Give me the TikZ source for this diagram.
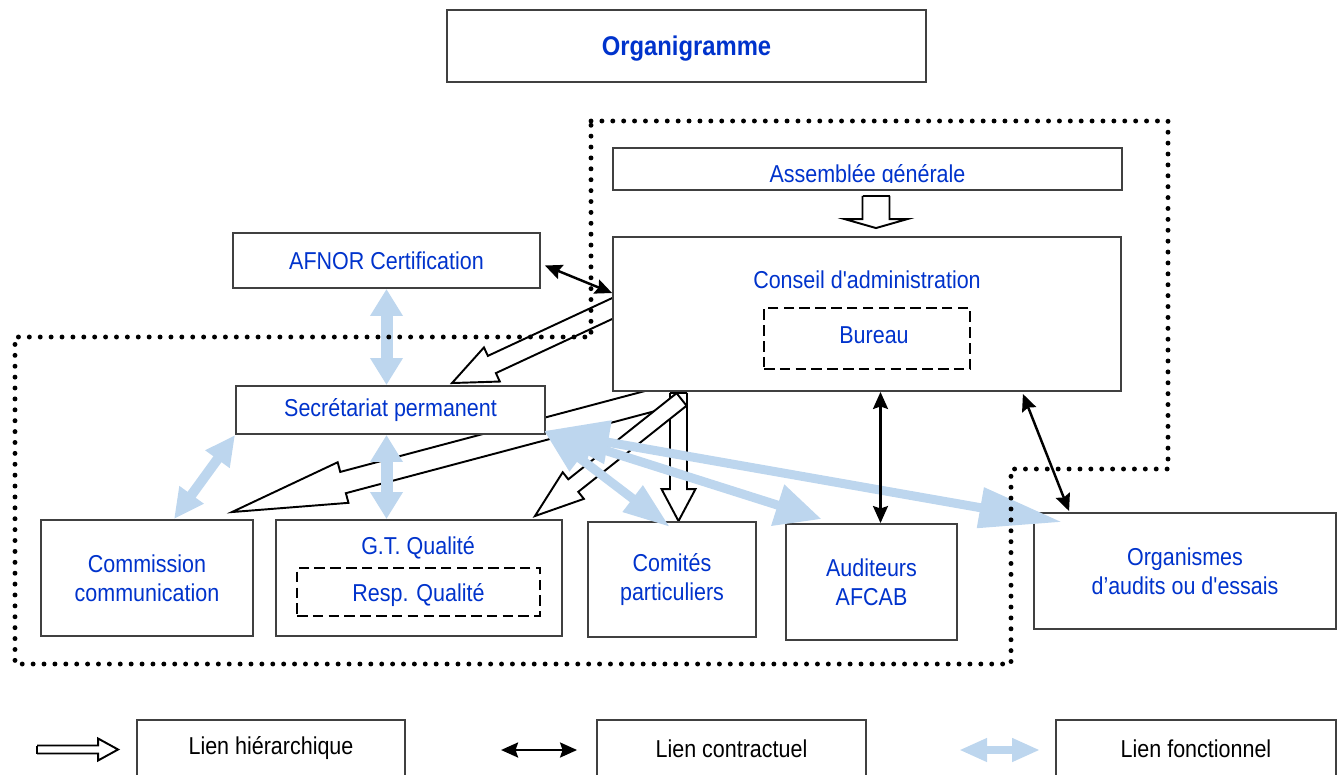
\documentclass[tikz,border=0pt]{standalone}
\usepackage{fontspec}
\setmainfont{Liberation Sans}[Ligatures=TeXOff, FakeStretch=0.88]
\usetikzlibrary{arrows.meta,calc}
\definecolor{txtblue}{RGB}{0,51,204}
\definecolor{funcblue}{RGB}{189,214,238}
\definecolor{boxgray}{RGB}{64,64,64}
\newcommand{\txtsize}{\fontsize{13.9}{16.5}\selectfont}
\pgfdeclarelayer{back}
\pgfsetlayers{back,main}
\tikzset{
  box/.style={draw=boxgray, line width=1.1pt, fill=white, inner sep=0pt, align=center, text=txtblue, font=\txtsize},
  subbox/.style={draw=black, line width=1.1pt, dash pattern=on 6pt off 3pt, inner sep=0pt},
  boxtext/.style={text=txtblue, font=\txtsize, inner sep=0pt},
  legbox/.style={box, text=black},
  hier/.style={draw=black, line width=1.1pt},
  contr/.style={line width=1.4pt, arrows={Stealth[length=0.34cm,width=0.3cm,inset=0.05cm]-Stealth[length=0.34cm,width=0.3cm,inset=0.05cm]}},
  func/.style={draw=funcblue, line width=0.18cm},
  groupline/.style={line width=2.8pt, line cap=round, dash pattern=on 0pt off 6.2pt}
}
% hollow block arrow: [cap style] start, tip, half shaft, half head, head length
\newcommand{\hollowarrow}[6][]{%
  \coordinate (ha-s) at (#2);
  \coordinate (ha-t) at (#3);
  \coordinate (ha-b) at ($(ha-t)!#6!(ha-s)$);
  \fill[white] ($(ha-s)!#4!90:(ha-t)$) -- ($(ha-b)!#4!-90:(ha-s)$) -- ($(ha-b)!#5!-90:(ha-s)$)
    -- (ha-t) -- ($(ha-b)!#5!90:(ha-s)$) -- ($(ha-b)!#4!90:(ha-s)$) -- ($(ha-s)!#4!-90:(ha-t)$) -- cycle;
  \draw[hier] ($(ha-s)!#4!90:(ha-t)$) -- ($(ha-b)!#4!-90:(ha-s)$) -- ($(ha-b)!#5!-90:(ha-s)$)
    -- (ha-t) -- ($(ha-b)!#5!90:(ha-s)$) -- ($(ha-b)!#4!90:(ha-s)$) -- ($(ha-s)!#4!-90:(ha-t)$);
  \draw[hier,#1] ($(ha-s)!#4!-90:(ha-t)$) -- ($(ha-s)!#4!90:(ha-t)$);}
\begin{document}
\begin{tikzpicture}[x=0.02cm, y=-0.02cm]
  \useasboundingbox (0,0) rectangle (1338,774);
  % title
  \node[box, font=\fontsize{15.4}{18}\selectfont\bfseries, text depth=0pt, minimum width=9.58cm, minimum height=1.44cm] (titre) at (686.5,46) {Organigramme};
  % boxes
  \node[box, minimum width=10.18cm, minimum height=0.84cm] (ag) at (867.5,169) {};
  \begin{scope}
    \clip (ag.north west) rectangle ($(ag.south east)+(0,-8)$);
    \node[boxtext, anchor=base] (agl) at (867.5,182) {Assemblée générale};
  \end{scope}
  \node[box, minimum width=6.14cm, minimum height=1.1cm] (afnor) at (386.5,260.5) {AFNOR Certification};
  \node[box, minimum width=10.16cm, minimum height=3.08cm] (cons) at (867,314) {};
  \node[boxtext] (consl) at (867,280) {Conseil d'administration};
  \node[subbox, minimum width=4.12cm, minimum height=1.22cm] (bur) at (867,338.5) {};
  \node[boxtext] (burl) at (874,335) {Bureau};
  \node[box, minimum width=6.18cm, minimum height=0.96cm] (secr) at (390.5,410) {Secrétariat permanent};
  \node[box, minimum width=4.24cm, minimum height=2.32cm] (comm) at (147,578) {Commission\\communication};
  \node[box, minimum width=5.72cm, minimum height=2.32cm] (gtq) at (419,578) {};
  \node[boxtext] (gtql) at (418,548) {G.T. Qualité};
  \node[subbox, minimum width=4.86cm, minimum height=0.96cm] (resp) at (418.5,592) {};
  \node[boxtext] (respl) at (418.5,595) {Resp. Qualité};
  \node[box, minimum width=3.36cm, minimum height=2.3cm] (comites) at (672,579.5) {Comités\\particuliers};
  \node[box, minimum width=3.42cm, minimum height=2.32cm] (audit) at (871.5,582) {Auditeurs\\AFCAB};
  \node[box, minimum width=6.04cm, minimum height=2.32cm] (org) at (1185,571) {Organismes\\d’audits ou d'essais};
  % legend
  \node[legbox, minimum width=5.36cm, minimum height=1.14cm] (leg1) at (271,748.5) {Lien hiérarchique};
  \node[legbox, minimum width=5.38cm, minimum height=1.14cm] (leg2) at (731.5,748.5) {Lien contractuel};
  \node[legbox, minimum width=5.6cm, minimum height=1.14cm] (leg3) at (1196,748.5) {Lien fonctionnel};
  % hierarchical links, behind the boxes
  \begin{pgfonlayer}{back}
    \hollowarrow{$(cons.west)+(27,-18)$}{$(secr.north)+(61.5,-2)$}{0.19cm}{0.376cm}{0.88cm}
    \hollowarrow[draw=none]{$(cons.south west)+(42,8)$}{$(comm.north east)+(-22,-7)$}{0.22cm}{0.42cm}{2.3cm}
    \hollowarrow{$(cons.south -| comites.north)+(6.5,1)$}{$(comites.north)+(6.5,0)$}{0.17cm}{0.34cm}{0.64cm}
    \hollowarrow{$(cons.south west)+(69.5,7.5)$}{$(gtq.north east)+(-28,-3)$}{0.16cm}{0.34cm}{0.98cm}
    \hollowarrow{$(ag.south)+(8.5,5)$}{$(cons.north)+(9,-8)$}{0.27cm}{0.63cm}{0.18cm}
    \hollowarrow{$(leg1.west)+(-99,1)$}{$(leg1.west)+(-18,1)$}{0.08cm}{0.22cm}{0.4cm}
  \end{pgfonlayer}
  % functional links
  \draw[func, line width=0.24cm, arrows={Triangle[length=0.54cm,width=0.62cm]-Triangle[length=0.54cm,width=0.62cm]}]
    (afnor.south) -- (afnor.south |- secr.north);
  \draw[func, line width=0.24cm, arrows={Triangle[length=0.54cm,width=0.62cm]-Triangle[length=0.54cm,width=0.62cm]}]
    (afnor.south |- secr.south) -- (afnor.south |- gtq.north);
  \draw[func, line width=0.2cm, arrows={Triangle[length=0.6cm,width=0.56cm]-Triangle[length=0.6cm,width=0.56cm]}]
    (secr.south west) -- ($(comm.north)+(27,0)$);
  \coordinate (fs) at ($(secr.south east)+(-2,-4)$);
  \draw[func, arrows={Triangle[length=0.9cm,width=0.62cm]-Triangle[length=0.94cm,width=0.62cm]}]
    (fs) -- ($(comites.north)+(-2,6)$);
  \draw[func, arrows={Triangle[length=1cm,width=0.8cm]-Triangle[length=0.92cm,width=0.82cm]}]
    (fs) -- ($(audit.north)+(-50,-4)$);
  \draw[func, arrows={Triangle[length=1.3cm,width=0.84cm]-Triangle[length=1.66cm,width=0.78cm]}]
    (fs) -- ($(org.north west)+(29,10)$);
  \draw[func, line width=0.16cm, arrows={Triangle[length=0.56cm,width=0.44cm]-Triangle[length=0.56cm,width=0.44cm]}]
    ($(leg3.west)+(-96,1.5)$) -- ($(leg3.west)+(-15,1.5)$);
  % contractual links
  \draw[contr] ($(afnor.east)+(4,5)$) -- ($(cons.west)+(0,-21)$);
  \coordinate (c2) at ($(audit.north)+(9,0)$);
  \draw[contr] (c2 |- cons.south) -- (c2);
  \draw[contr] ($(cons.south east)+(-99,2)$) -- ($(org.north west)+(36,-1)$);
  \draw[contr] ($(leg2.west)+(-95,1.5)$) -- ($(leg2.west)+(-19,1.5)$);
  % dotted groups
  \draw[groupline] (591,121) -- (1168,121) -- (1168,469) -- (1011,469) -- (1011,664) -- (15,664) -- (15,337) -- (591,337) -- cycle;
\end{tikzpicture}
\end{document}
